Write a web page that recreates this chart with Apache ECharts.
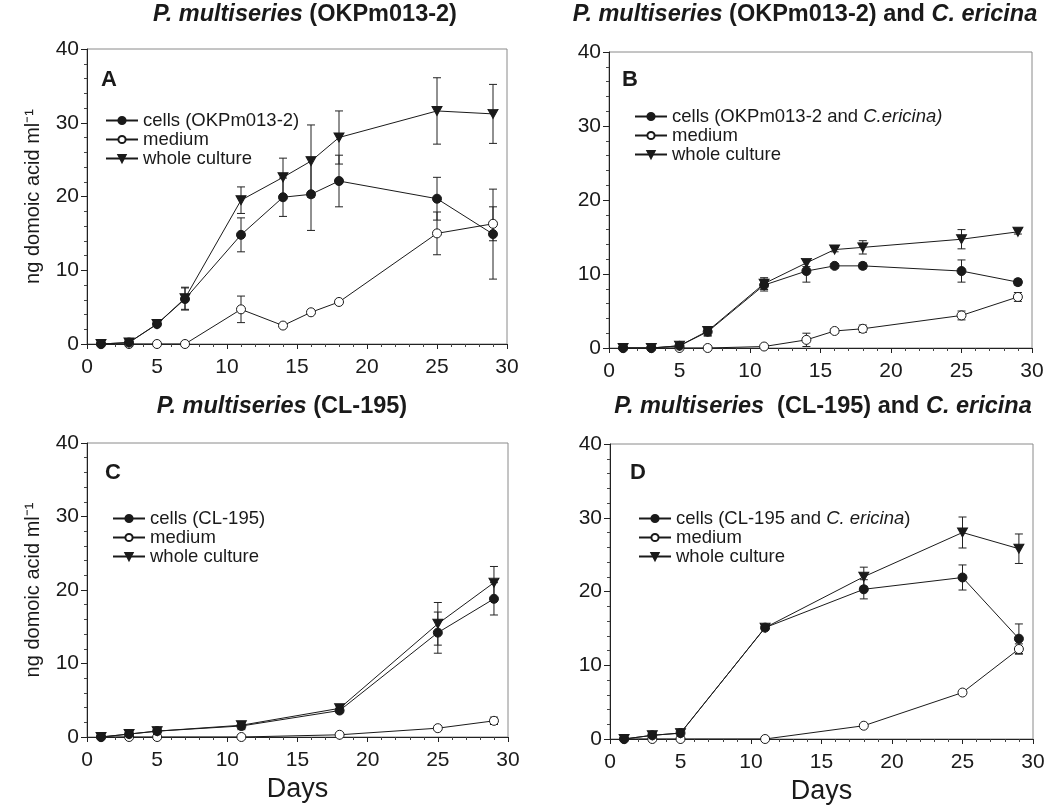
<!DOCTYPE html>
<html>
<head>
<meta charset="utf-8">
<script src="https://cdn.jsdelivr.net/npm/echarts@6/dist/echarts.min.js"></script>
<style>
  html, body { margin: 0; padding: 0; background: #fff; }
  #chart { width: 1050px; height: 807px; }
</style>
</head>
<body>
<div id="chart"></div>
<script>
// Sampling days
const daysAB = [1, 3, 5, 7, 11, 14, 16, 18, 25, 29];
const daysCD = [1, 3, 5, 11, 18, 25, 29];

// Axis ticks
const xTicks = [0, 5, 10, 15, 20, 25, 30];
const yTicks = [0, 10, 20, 30, 40];

// Panel A: P. multiseries (OKPm013-2)
const cellsA    = [0, 0.2, 2.7, 6.1, 14.8, 19.9, 20.3, 22.1, 19.7, 14.9];
const cellsAErr = [0, 0, 0.3, 1.5, 2.3, 2.6, 4.9, 3.5, 2.9, 6.1];
const mediumA    = [0, 0, 0, 0, 4.7, 2.5, 4.3, 5.7, 15.0, 16.3];
const mediumAErr = [0, 0, 0, 0, 1.8, 0, 0, 0, 2.9, 2.3];
const wholeA    = [0, 0.2, 2.7, 6.2, 19.5, 22.6, 24.8, 28.0, 31.6, 31.2];
const wholeAErr = [0, 0, 0.3, 1.5, 1.8, 2.6, 4.9, 3.6, 4.5, 4.0];

// Panel B: P. multiseries (OKPm013-2) and C. ericina
const cellsB    = [0, 0, 0.3, 2.2, 8.5, 10.4, 11.1, 11.1, 10.4, 8.9];
const cellsBErr = [0, 0, 0, 0.6, 0.8, 1.5, 0.3, 0.4, 1.5, 0.4];
const mediumB    = [0, 0, 0, 0, 0.2, 1.1, 2.3, 2.6, 4.4, 6.9];
const mediumBErr = [0, 0, 0, 0, 0, 0.9, 0.3, 0.5, 0.6, 0.6];
const wholeB    = [0, 0, 0.3, 2.3, 8.7, 11.5, 13.3, 13.6, 14.7, 15.7];
const wholeBErr = [0, 0, 0, 0.6, 0.8, 0.5, 0.3, 0.9, 1.3, 0.3];

// Panel C: P. multiseries (CL-195)
const cellsC    = [0, 0.4, 0.8, 1.5, 3.6, 14.2, 18.8];
const cellsCErr = [0, 0, 0, 0.5, 0.3, 2.8, 2.2];
const mediumC    = [0, 0, 0, 0, 0.3, 1.2, 2.2];
const mediumCErr = [0, 0, 0, 0, 0, 0, 0.5];
const wholeC    = [0, 0.4, 0.8, 1.6, 3.9, 15.4, 21.0];
const wholeCErr = [0, 0, 0, 0.4, 0.3, 2.9, 2.2];

// Panel D: P. multiseries (CL-195) and C. ericina
const cellsD    = [0, 0.5, 0.8, 15.1, 20.3, 21.9, 13.6];
const cellsDErr = [0, 0, 0, 0.3, 1.3, 1.7, 2.0];
const mediumD    = [0, 0, 0, 0, 1.8, 6.3, 12.2];
const mediumDErr = [0, 0, 0, 0, 0, 0, 0.7];
const wholeD    = [0, 0.5, 0.8, 15.1, 22.0, 28.0, 25.8];
const wholeDErr = [0, 0, 0, 0.3, 1.3, 2.1, 2.0];

const cellsNames = [
  'cells (OKPm013-2)',
  'cells (OKPm013-2 and C.ericina)',
  'cells (CL-195)',
  'cells (CL-195 and C. ericina)'
];
const cellsLabels = [
  'cells (OKPm013-2)',
  'cells (OKPm013-2 and {i|C.ericina)}',
  'cells (CL-195)',
  'cells (CL-195 and {i|C. ericina})'
];
const titles = [
  '{i|P. multiseries} (OKPm013-2)',
  '{i|P. multiseries} (OKPm013-2) and {i|C. ericina}',
  '{i|P. multiseries} (CL-195)',
  '{i|P. multiseries}  (CL-195) and {i|C. ericina}'
];
const panelLetters = ['A', 'B', 'C', 'D'];
const yName = 'ng domoic acid ml\u207B\u00B9';
const xName = 'Days';

const panels = [
  { days: daysAB, cells: [cellsA, cellsAErr], medium: [mediumA, mediumAErr], whole: [wholeA, wholeAErr] },
  { days: daysAB, cells: [cellsB, cellsBErr], medium: [mediumB, mediumBErr], whole: [wholeB, wholeBErr] },
  { days: daysCD, cells: [cellsC, cellsCErr], medium: [mediumC, mediumCErr], whole: [wholeC, wholeCErr] },
  { days: daysCD, cells: [cellsD, cellsDErr], medium: [mediumD, mediumDErr], whole: [wholeD, wholeDErr] }
];

// Layout of the four plot boxes
const boxes = [
  { left: 87,  top: 49,  width: 420, height: 295 },
  { left: 609, top: 52,  width: 423, height: 296 },
  { left: 87,  top: 443, width: 421, height: 294 },
  { left: 610, top: 444, width: 423, height: 295 }
];
const titlePos = [
  { x: 305, y: 3 }, { x: 805, y: 3 }, { x: 282, y: 395 }, { x: 823, y: 395 }
];
const letterPos = [
  { x: 101, y: 69 }, { x: 622, y: 69 }, { x: 105, y: 462 }, { x: 630, y: 462 }
];
const legendPos = [
  { x: 105, y: 111 }, { x: 634, y: 107 }, { x: 112, y: 509 }, { x: 638, y: 509 }
];

const FONT = '"Liberation Sans", Arial, Helvetica, sans-serif';
const INK = '#1a1a1a';

function errorBars(params, api) {
  const e = api.value(2);
  if (!e) return null;
  const x = api.value(0), v = api.value(1);
  const hi = api.coord([x, v + e]);
  const lo = api.coord([x, v - e]);
  const w = 4;
  const st = { stroke: '#222', lineWidth: 1 };
  return {
    type: 'group',
    children: [
      { type: 'line', shape: { x1: hi[0], y1: hi[1], x2: lo[0], y2: lo[1] }, style: st },
      { type: 'line', shape: { x1: hi[0] - w, y1: hi[1], x2: hi[0] + w, y2: hi[1] }, style: st },
      { type: 'line', shape: { x1: lo[0] - w, y1: lo[1], x2: lo[0] + w, y2: lo[1] }, style: st }
    ]
  };
}

const grid = [], xAxis = [], yAxis = [], series = [], legend = [], title = [], graphic = [];

panels.forEach((p, k) => {
  grid.push(Object.assign({ show: true, borderColor: '#8a8a8a', borderWidth: 1, containLabel: false }, boxes[k]));

  xAxis.push({
    type: 'value', gridIndex: k, min: xTicks[0], max: xTicks[xTicks.length - 1], interval: 5,
    name: k >= 2 ? xName : '', nameLocation: 'middle', nameGap: 39,
    nameTextStyle: { fontFamily: FONT, fontSize: 27, color: INK },
    axisLine: { show: true, lineStyle: { color: '#222', width: 1 } },
    axisTick: { show: true, inside: false, length: 5, lineStyle: { color: '#222' } },
    minorTick: { show: true, splitNumber: 5, length: 3, lineStyle: { color: '#444' } },
    splitLine: { show: false },
    axisLabel: { fontFamily: FONT, fontSize: 21, color: INK, margin: 13, showMinLabel: true, showMaxLabel: true }
  });

  yAxis.push({
    type: 'value', gridIndex: k, min: yTicks[0], max: yTicks[yTicks.length - 1], interval: 10,
    name: (k % 2 === 0) ? yName : '', nameLocation: 'middle', nameGap: 44,
    nameTextStyle: { fontFamily: FONT, fontSize: 20, color: INK },
    axisLine: { show: true, lineStyle: { color: '#222', width: 1 } },
    axisTick: { show: true, inside: false, length: 6, lineStyle: { color: '#222' } },
    minorTick: { show: true, splitNumber: 5, length: 3, lineStyle: { color: '#444' } },
    splitLine: { show: false },
    axisLabel: { fontFamily: FONT, fontSize: 21, color: INK, margin: 8 }
  });

  const groups = [
    { name: cellsNames[k], data: p.cells, symbol: 'circle', fill: INK, rot: 0, size: 9 },
    { name: 'medium', data: p.medium, symbol: 'circle', fill: '#fff', rot: 0, size: 9 },
    { name: 'whole culture', data: p.whole, symbol: 'triangle', fill: INK, rot: 180, size: [10, 9] }
  ];

  groups.forEach(g => {
    series.push({
      type: 'custom', xAxisIndex: k, yAxisIndex: k, z: 1, silent: true,
      renderItem: errorBars, encode: { x: 0, y: 1 },
      data: p.days.map((d, i) => [d, g.data[0][i], g.data[1][i]])
    });
  });
  // open-circle series first so filled markers sit on top where they overlap
  [groups[1], groups[0], groups[2]].forEach(g => {
    series.push({
      type: 'line', name: g.name, xAxisIndex: k, yAxisIndex: k, z: 3,
      data: p.days.map((d, i) => [d, g.data[0][i]]),
      symbol: g.symbol, symbolSize: g.size, symbolRotate: g.rot, showSymbol: true,
      lineStyle: { color: INK, width: 1 },
      itemStyle: { color: g.fill, borderColor: INK, borderWidth: 1 },
      emphasis: { disabled: true }
    });
  });

  legend.push({
    orient: 'vertical', left: legendPos[k].x, top: legendPos[k].y,
    data: [cellsNames[k], 'medium', 'whole culture'],
    itemWidth: 32, itemHeight: 9, itemGap: 0, padding: 0,
    selectedMode: false,
    formatter: name => (name === cellsNames[k] ? cellsLabels[k] : name),
    textStyle: {
      fontFamily: FONT, fontSize: 18.5, color: INK, lineHeight: 18,
      rich: { i: { fontFamily: FONT, fontSize: 18.5, fontStyle: 'italic', color: INK, lineHeight: 18 } }
    }
  });

  title.push({
    text: titles[k], left: titlePos[k].x, top: titlePos[k].y, textAlign: 'center', padding: 0,
    textStyle: {
      fontFamily: FONT, fontSize: 23.5, fontWeight: 'bold', color: INK,
      rich: { i: { fontFamily: FONT, fontSize: 23.5, fontWeight: 'bold', fontStyle: 'italic', color: INK } }
    }
  });

  graphic.push({
    type: 'text', left: letterPos[k].x, top: letterPos[k].y,
    style: { text: panelLetters[k], font: 'bold 22px ' + FONT, fill: INK }
  });
});

const chart = echarts.init(document.getElementById('chart'), null, { renderer: 'canvas' });
chart.setOption({
  animation: false,
  backgroundColor: '#fff',
  title, grid, xAxis, yAxis, legend, series, graphic
});
</script>
</body>
</html>
